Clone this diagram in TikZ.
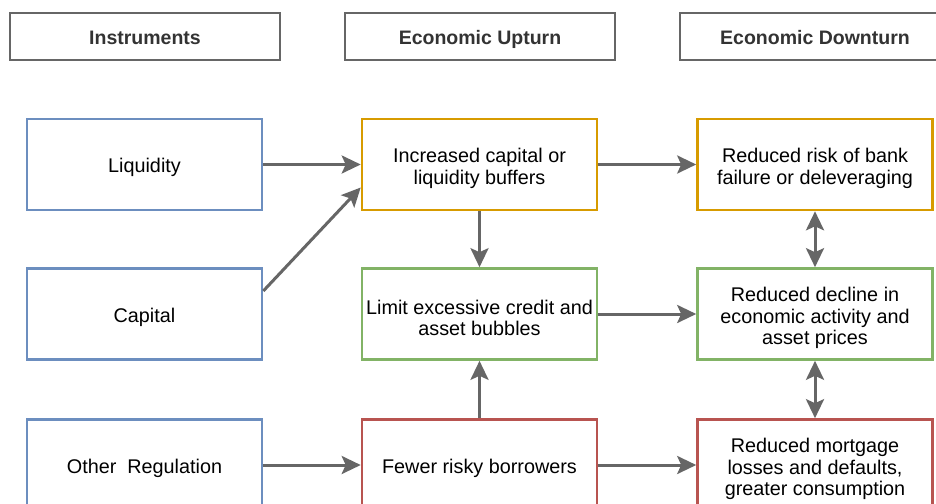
\documentclass[tikz,border=0pt]{standalone}
\usepackage{fontspec}
\setmainfont{Liberation Sans}
\usetikzlibrary{arrows.meta,calc}
\definecolor{hdrgray}{HTML}{666666}
\definecolor{bblue}{HTML}{6C8EBF}
\definecolor{borange}{HTML}{D79B00}
\definecolor{bgreen}{HTML}{82B366}
\definecolor{bred}{HTML}{B85450}
\definecolor{arrgray}{HTML}{666666}
\definecolor{hdrtext}{HTML}{333333}
\newcommand\tstrut{\rule{0pt}{20.5pt}}
\newcommand\mstrut{\rule{0pt}{22.5pt}}
\tikzset{
  hdr/.style={draw=hdrgray, line width=2.8pt, minimum width=270pt, minimum height=47pt, inner sep=0pt,
    text height=20.5pt, text depth=4pt,
    font=\fontsize{19.5}{23}\selectfont\bfseries, text=hdrtext},
  boxbase/.style={line width=2.6pt, minimum width=235pt, minimum height=91pt, inner sep=1pt, align=center,
    font=\fontsize{19.8}{21.5}\selectfont, text=black},
  bluebox/.style={boxbase, draw=bblue},
  orangebox/.style={boxbase, draw=borange},
  greenbox/.style={boxbase, draw=bgreen},
  redbox/.style={boxbase, draw=bred},
  conn/.style={draw=arrgray, line width=3pt, -{Stealth[length=19pt, width=18pt, inset=4pt]}},
  biconn/.style={draw=arrgray, line width=3pt, {Stealth[length=19pt, width=18pt, inset=4pt]}-{Stealth[length=19pt, width=18pt, inset=4pt]}}
}
\begin{document}
\begin{tikzpicture}[x=1pt, y=-1pt]
\useasboundingbox (0,0) rectangle (936,503);
\clip (0,0) rectangle (936,503);
\fill[white] (0,0) rectangle (936,503);
% headers
\node[hdr] (h1) at (145,36.5) {Instruments};
\node[hdr] (h2) at (480,36.5) {Economic Upturn};
\node[hdr] (h3) at (815,36.5) {Economic Downturn};
% left column
\node[bluebox] (liq) at (144.5,164.5) {\tstrut Liquidity};
\node[bluebox] (cap) at (144.5,314) {\tstrut Capital};
\node[bluebox] (oth) at (144.5,465) {\tstrut Other\ \ Regulation};
% middle column
\node[orangebox] (inc) at (479.5,164.5) {\mstrut Increased capital or\\liquidity buffers};
\node[greenbox] (lim) at (479.5,314) {\mstrut Limit excessive credit and\\asset bubbles};
\node[redbox] (few) at (479.5,465) {\tstrut Fewer risky borrowers};
% right column
\node[orangebox] (risk) at (815,164.5) {\mstrut Reduced risk of bank\\failure or deleveraging};
\node[greenbox] (decl) at (815,314) {\mstrut Reduced decline in\\economic activity and\\asset prices};
\node[redbox] (mort) at (815,465) {\mstrut Reduced mortgage\\losses and defaults,\\greater consumption};
% connectors
\coordinate (capout) at ($(cap.east)+(0,-23)$);
\coordinate (incin) at ($(inc.west)+(0,23)$);
\draw[conn] (liq) -- (inc);
\draw[conn] (capout) -- (incin);
\draw[conn] (oth) -- (few);
\draw[conn] (inc) -- (lim);
\draw[conn] (few) -- (lim);
\draw[conn] (inc) -- (risk);
\draw[conn] (lim) -- (decl);
\draw[conn] (few) -- (mort);
\draw[biconn] (risk) -- (decl);
\draw[biconn] (decl) -- (mort);
\end{tikzpicture}
\end{document}
